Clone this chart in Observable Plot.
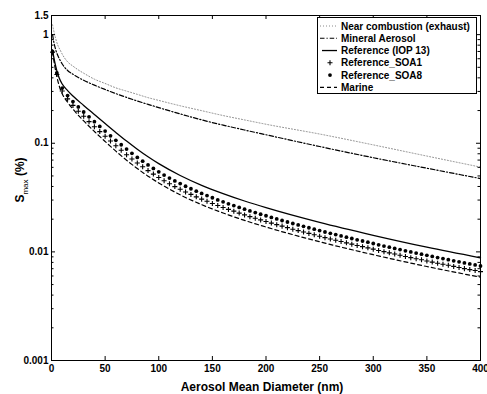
<!DOCTYPE html>
<html><head><meta charset="utf-8">
<script src="https://cdn.jsdelivr.net/npm/d3@7"></script>
<script src="https://cdn.jsdelivr.net/npm/@observablehq/plot@0.6"></script>
<style>html,body{margin:0;padding:0;background:#fff}svg{display:block}</style>
</head><body><div id="chart"></div>
<script>
// ---- data ----
const xTicks = [0, 50, 100, 150, 200, 250, 300, 350, 400];
const yLabelTicks = [0.001, 0.01, 0.1, 1, 1.5];
const yMajorTicks = [0.001, 0.01, 0.1, 1];
const yMinorTicks = [0.002,0.003,0.004,0.005,0.006,0.007,0.008,0.009,
                     0.02,0.03,0.04,0.05,0.06,0.07,0.08,0.09,
                     0.2,0.3,0.4,0.5,0.6,0.7,0.8,0.9];

const seriesNames = ["Near combustion (exhaust)", "Mineral Aerosol", "Reference (IOP 13)",
                     "Reference_SOA1", "Reference_SOA8", "Marine"];

// upper curves
const upperX = [1,2,4,6,8,10,15,20,25,30,40,50,60,70,80,90,100,120,140,160,180,200,250,300,350,400];
const nearCombustion = [1.23,1.096,0.912,0.794,0.724,0.661,0.562,0.513,0.473,0.4416,0.389,0.355,0.3236,0.302,0.282,0.263,0.248,0.2213,0.1995,0.1799,0.164,0.1496,0.1216,0.0966,0.0762,0.0603];
const mineralAerosol = [1.0,0.871,0.724,0.638,0.582,0.537,0.468,0.4315,0.4027,0.38,0.3428,0.3126,0.2864,0.2642,0.2449,0.228,0.2128,0.1862,0.1641,0.1469,0.1324,0.1197,0.0933,0.0736,0.0589,0.0473];

// lower lines
const lowerX = [1,2,3,4,5,7,10,15,20,30,40,50,60,70,80,90,100,120,140,160,180,200,250,300,350,400];
const referenceIOP13 = [0.724,0.631,0.562,0.507,0.4645,0.4027,0.3508,0.3055,0.2722,0.2229,0.184,0.1521,0.1259,0.1047,0.0881,0.075,0.0649,0.0505,0.041,0.0344,0.0294,0.0255,0.01866,0.0142,0.01104,0.00881];
const marine = [0.695,0.593,0.518,0.4575,0.411,0.3418,0.2857,0.2389,0.206,0.1606,0.1284,0.1039,0.0846,0.0698,0.0585,0.0498,0.0431,0.0335,0.0272,0.0228,0.0195,0.01694,0.01239,0.00942,0.00733,0.00585];

// marker series
const markerX = [1,5,10,15,20,25,30,35,40,45,50,55,60,65,70,75,80,85,90,95,100,
  105,110,115,120,125,130,135,140,145,150,155,160,165,170,175,180,185,190,195,200,
  205,210,215,220,225,230,235,240,245,250,255,260,265,270,275,280,285,290,295,300,
  305,310,315,320,325,330,335,340,345,350,355,360,365,370,375,380,385,390,395,400];
const referenceSOA8 = [0.696,0.444,0.322,0.275,0.242,0.216,0.194,0.175,0.158,0.143,0.1295,
  0.117,0.1065,0.0969,0.0883,0.0807,0.0741,0.0684,0.0631,0.0586,0.0546,
  0.0509,0.0478,0.045,0.0425,0.0402,0.0381,0.0362,0.0345,0.033,0.0315,
  0.0301,0.0289,0.0277,0.0267,0.02565,0.0247,0.0238,0.023,0.0222,0.0215,
  0.02075,0.0201,0.01945,0.01883,0.01824,0.0177,0.01718,0.01667,0.01618,0.0157,
  0.01524,0.01483,0.01443,0.01403,0.01365,0.01328,0.01291,0.01259,0.01228,0.01194,
  0.01161,0.01132,0.01104,0.01076,0.0105,0.01023,0.00998,0.00975,0.00953,0.00929,
  0.00908,0.00887,0.00867,0.00847,0.00828,0.00809,0.00791,0.00774,0.00759,0.00741];
const referenceSOA1 = [0.688,0.429,0.303,0.256,0.223,0.197,0.177,0.158,0.142,0.128,0.116,
  0.105,0.0948,0.0862,0.0784,0.0716,0.0658,0.0607,0.056,0.052,0.0484,
  0.0452,0.0424,0.0399,0.0377,0.0356,0.0338,0.0321,0.0306,0.0292,0.0279,
  0.0267,0.02565,0.0246,0.0237,0.02275,0.0219,0.0211,0.0204,0.0197,0.01905,
  0.0184,0.0178,0.01726,0.01671,0.01618,0.0157,0.01524,0.0148,0.01436,0.01394,
  0.01352,0.01315,0.0128,0.01245,0.01211,0.01178,0.01146,0.01117,0.01089,0.01059,
  0.0103,0.01005,0.0098,0.00955,0.00931,0.00908,0.00885,0.00865,0.00845,0.00824,
  0.00805,0.00787,0.00769,0.00752,0.00735,0.00718,0.00701,0.00687,0.00673,0.00658];

// ---- layout / styles ----
const W = 487, H = 394, mL = 51, mR = 7, mT = 15, mB = 34;
const innerW = W - mL - mR, innerH = H - mT - mB;
const FONT = "'Liberation Sans', Arial, Helvetica, sans-serif";

const styles = {
  near:    {stroke: "#8a8a8a", strokeWidth: 1, strokeDasharray: "1,2"},
  mineral: {stroke: "black", strokeWidth: 1.2, strokeDasharray: "4.5,2,1.2,2"},
  ref:     {stroke: "black", strokeWidth: 1.3},
  marine:  {stroke: "black", strokeWidth: 1.2, strokeDasharray: "4,3"}
};
const plusR = 1.75, dotR = 1.9;

const zip = (xs, ys) => xs.map((x, i) => ({x, y: ys[i]}));

const chart = Plot.plot({
  width: W, height: H,
  marginLeft: mL, marginRight: mR, marginTop: mT, marginBottom: mB,
  style: {fontFamily: FONT, fontSize: "10px", fontWeight: "bold", background: "white", color: "black"},
  x: {domain: [0, 400]},
  y: {type: "log", domain: [0.001, 1.5]},
  marks: [
    Plot.line(zip(upperX, nearCombustion), {x: "x", y: "y", curve: "monotone-x", ...styles.near}),
    Plot.line(zip(upperX, mineralAerosol), {x: "x", y: "y", curve: "monotone-x", ...styles.mineral}),
    Plot.line(zip(lowerX, marine), {x: "x", y: "y", curve: "monotone-x", ...styles.marine}),
    Plot.line(zip(lowerX, referenceIOP13), {x: "x", y: "y", curve: "monotone-x", ...styles.ref}),
    Plot.dot(zip(markerX, referenceSOA1), {x: "x", y: "y", symbol: "plus", r: plusR, stroke: "black", strokeWidth: 1.1, fill: "none"}),
    Plot.dot(zip(markerX, referenceSOA8), {x: "x", y: "y", r: dotR, fill: "black", stroke: "none"}),
    Plot.frame({stroke: "black", strokeWidth: 1}),
    // inward ticks on all four sides
    Plot.tickX(xTicks, {x: d => d, insetTop: innerH - 4, stroke: "black"}),
    Plot.tickX(xTicks, {x: d => d, insetBottom: innerH - 4, stroke: "black"}),
    Plot.tickY(yMajorTicks, {y: d => d, insetRight: innerW - 4, stroke: "black"}),
    Plot.tickY(yMajorTicks, {y: d => d, insetLeft: innerW - 4, stroke: "black"}),
    Plot.tickY(yMinorTicks, {y: d => d, insetRight: innerW - 2.5, stroke: "black"}),
    Plot.tickY(yMinorTicks, {y: d => d, insetLeft: innerW - 2.5, stroke: "black"}),
    Plot.axisX(xTicks, {tickSize: 0, tickPadding: 4, label: null, tickFormat: d => String(d)}),
    Plot.axisY(yLabelTicks, {tickSize: 0, tickPadding: 3, label: null, tickFormat: d => String(d)})
  ]
});

document.getElementById("chart").appendChild(chart);

const svg = d3.select(chart);

// x-axis title
svg.append("text")
  .attr("x", 262).attr("y", 391)
  .attr("text-anchor", "middle")
  .attr("font-family", FONT).attr("font-size", 12).attr("font-weight", "bold")
  .attr("fill", "black")
  .text("Aerosol Mean Diameter (nm)");

// y-axis title with subscript
const yt = svg.append("text")
  .attr("transform", "translate(24,180) rotate(-90)")
  .attr("text-anchor", "middle")
  .attr("font-family", FONT).attr("font-size", 12).attr("font-weight", "bold")
  .attr("fill", "black");
yt.append("tspan").text("S");
yt.append("tspan").attr("font-size", 8).attr("font-weight", "normal").attr("dy", 3.5).text("max");
yt.append("tspan").attr("dy", -3.5).text(" (%)");

// legend
const lg = svg.append("g").attr("font-family", FONT).attr("font-size", 10).attr("font-weight", "bold")
  .attr("text-anchor", "start");
lg.append("rect").attr("x", 317.5).attr("y", 17.5).attr("width", 159).attr("height", 76)
  .attr("fill", "white").attr("stroke", "black").attr("stroke-width", 1);
const rowY = i => 26 + i * 12.27;
const lineKeys = {0: styles.near, 1: styles.mineral, 2: styles.ref, 5: styles.marine};
seriesNames.forEach((name, i) => {
  const cy = rowY(i);
  if (lineKeys[i]) {
    const s = lineKeys[i];
    lg.append("line").attr("x1", i === 2 ? 322 : 320).attr("x2", 337).attr("y1", cy).attr("y2", cy)
      .attr("stroke", s.stroke).attr("stroke-width", s.strokeWidth)
      .attr("stroke-dasharray", s.strokeDasharray || null);
  } else if (i === 3) {
    lg.append("path").attr("transform", `translate(330,${cy})`)
      .attr("d", d3.symbol(d3.symbolPlus, Math.PI * plusR * plusR)())
      .attr("fill", "none").attr("stroke", "black").attr("stroke-width", 1.1);
  } else {
    lg.append("circle").attr("cx", 330).attr("cy", cy).attr("r", dotR).attr("fill", "black");
  }
  lg.append("text").attr("x", 341).attr("y", cy + 3.6).attr("text-anchor", "start")
    .attr("fill", "black").text(name);
});
</script>
</body></html>
